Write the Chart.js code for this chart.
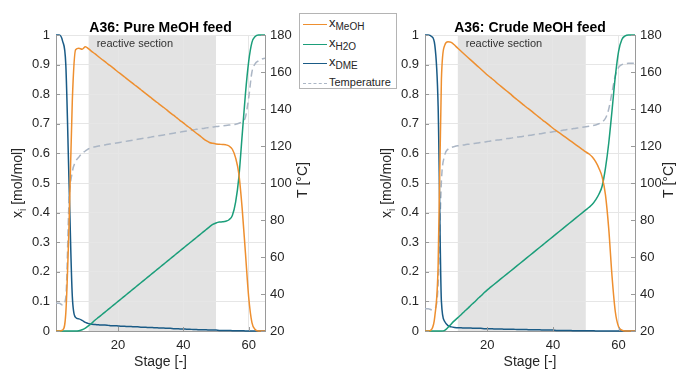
<!DOCTYPE html>
<html>
<head>
<meta charset="utf-8">
<script src="https://cdn.jsdelivr.net/npm/chart.js@4.4.0/dist/chart.umd.min.js"></script>
<style>
  body { margin: 0; background: #fff; }
  #wrap { position: relative; width: 681px; height: 372px; overflow: hidden; font-family: "Liberation Sans", Arial, sans-serif; }
  #c1 { position: absolute; left: 0; top: 0; }
  #c2 { position: absolute; left: 368px; top: 0; }
  #legend { position: absolute; left: 299px; top: 13px; width: 96px; height: 74px; border: 1px solid #b4b4b4; background: #fff; font-size: 11px; color: #262626; }
  .row { position: absolute; left: 3px; height: 14px; line-height: 14px; white-space: nowrap; }
  .sw { display: inline-block; width: 24px; height: 0; border-top: 1.5px solid; vertical-align: middle; margin-right: 2px; }
  .row .x { font-size: 13px; }
  sub { font-size: 10px; vertical-align: -3px; line-height: 0; }
</style>
</head>
<body>
<div id="wrap">
  <canvas id="c1" width="312" height="372"></canvas>
  <canvas id="c2" width="313" height="372"></canvas>
  <div id="legend">
    <div class="row" style="top:2px"><span class="sw" style="border-color:#ee8f2f"></span><span class="x">x</span><sub>MeOH</sub></div>
    <div class="row" style="top:22px"><span class="sw" style="border-color:#1b9e7a"></span><span class="x">x</span><sub>H2O</sub></div>
    <div class="row" style="top:41px"><span class="sw" style="border-color:#1a5b86"></span><span class="x">x</span><sub>DME</sub></div>
    <div class="row" style="top:61px"><span class="sw" style="border-top:1.5px dashed #abb6c5"></span>Temperature</div>
  </div>
</div>
<script>
const stages = [
  1, 2, 3, 4, 5, 6, 7, 8, 9, 10,
  11, 12, 13, 14, 15, 16, 17, 18, 19, 20,
  21, 22, 23, 24, 25, 26, 27, 28, 29, 30,
  31, 32, 33, 34, 35, 36, 37, 38, 39, 40,
  41, 42, 43, 44, 45, 46, 47, 48, 49, 50,
  51, 52, 53, 54, 55, 56, 57, 58, 59, 60,
  61, 62, 63, 64, 65
];

// A36: Pure MeOH feed
const pureMeOH = [
  0, 0, 0.003, 0.06, 0.36, 0.78, 0.950, 0.955, 0.952, 0.960,
  0.953, 0.944, 0.936, 0.927, 0.918, 0.910, 0.901, 0.893, 0.884, 0.875,
  0.867, 0.858, 0.849, 0.841, 0.832, 0.824, 0.815, 0.806, 0.798, 0.789,
  0.780, 0.772, 0.763, 0.755, 0.746, 0.737, 0.729, 0.720, 0.711, 0.703,
  0.694, 0.686, 0.677, 0.668, 0.660, 0.651, 0.643, 0.637, 0.634, 0.632,
  0.631, 0.630, 0.629, 0.625, 0.614, 0.585, 0.530, 0.415, 0.265, 0.115,
  0.028, 0.005, 0, 0, 0
];
const pureH2O = [
  0, 0, 0, 0, 0, 0, 0, 0.001, 0.004, 0.010,
  0.018, 0.027, 0.037, 0.046, 0.055, 0.064, 0.073, 0.082, 0.091, 0.100,
  0.109, 0.118, 0.127, 0.136, 0.145, 0.154, 0.163, 0.172, 0.181, 0.190,
  0.199, 0.208, 0.217, 0.226, 0.235, 0.244, 0.253, 0.262, 0.271, 0.280,
  0.289, 0.298, 0.307, 0.316, 0.325, 0.334, 0.343, 0.352, 0.360, 0.365,
  0.368, 0.369, 0.371, 0.376, 0.390, 0.435, 0.520, 0.660, 0.800, 0.910,
  0.975, 0.995, 1, 1, 1
];
const pureDME = [
  1, 1, 0.98, 0.90, 0.50, 0.116, 0.046, 0.041, 0.036, 0.029,
  0.025, 0.023, 0.022, 0.021, 0.020, 0.020, 0.019, 0.018, 0.018, 0.017,
  0.016, 0.016, 0.015, 0.015, 0.014, 0.014, 0.013, 0.013, 0.012, 0.012,
  0.011, 0.011, 0.010, 0.010, 0.009, 0.009, 0.008, 0.008, 0.007, 0.007,
  0.006, 0.006, 0.005, 0.005, 0.004, 0.004, 0.004, 0.003, 0.003, 0.003,
  0.002, 0.002, 0.002, 0.002, 0.001, 0.001, 0.001, 0.001, 0, 0,
  0, 0, 0, 0, 0
];
const pureTemp = [
  35, 35, 34, 38, 90, 106, 111.5, 114, 116, 117.3,
  118.5, 119.2, 119.6, 120.0, 120.3, 120.6, 120.9, 121.2, 121.5, 121.8,
  122.1, 122.4, 122.7, 123.0, 123.3, 123.6, 123.9, 124.2, 124.5, 124.8,
  125.1, 125.4, 125.7, 126.0, 126.3, 126.6, 126.9, 127.2, 127.5, 127.8,
  128.1, 128.4, 128.7, 129.0, 129.3, 129.5, 129.8, 130.0, 130.3, 130.5,
  130.7, 130.9, 131.1, 131.3, 131.5, 131.8, 132.3, 133.2, 135.5, 146,
  160, 164.5, 166, 167, 167.5
];

// A36: Crude MeOH feed
const crudeMeOH = [
  0, 0, 0.005, 0.05, 0.22, 0.85, 0.965, 0.977, 0.975, 0.966,
  0.955, 0.945, 0.935, 0.925, 0.915, 0.905, 0.895, 0.885, 0.875, 0.865,
  0.856, 0.847, 0.837, 0.828, 0.819, 0.810, 0.801, 0.791, 0.782, 0.773,
  0.764, 0.755, 0.747, 0.738, 0.729, 0.720, 0.711, 0.703, 0.694, 0.685,
  0.677, 0.669, 0.661, 0.653, 0.645, 0.637, 0.629, 0.621, 0.613, 0.605,
  0.598, 0.588, 0.572, 0.550, 0.520, 0.460, 0.345, 0.185, 0.065, 0.014,
  0.003, 0, 0, 0, 0
];
const crudeH2O = [
  0, 0, 0, 0, 0, 0, 0.002, 0.012, 0.024, 0.035,
  0.045, 0.055, 0.066, 0.076, 0.087, 0.097, 0.108, 0.118, 0.129, 0.139,
  0.148, 0.157, 0.166, 0.175, 0.184, 0.193, 0.202, 0.211, 0.220, 0.229,
  0.238, 0.247, 0.256, 0.265, 0.274, 0.283, 0.292, 0.301, 0.310, 0.319,
  0.328, 0.337, 0.346, 0.355, 0.364, 0.373, 0.382, 0.391, 0.400, 0.409,
  0.418, 0.428, 0.443, 0.462, 0.490, 0.550, 0.635, 0.745, 0.860, 0.945,
  0.985, 0.997, 1, 1, 1
];
const crudeDME = [
  1, 1, 0.995, 0.965, 0.76, 0.10, 0.032, 0.018, 0.014, 0.012,
  0.011, 0.011, 0.010, 0.010, 0.010, 0.009, 0.009, 0.009, 0.008, 0.008,
  0.008, 0.007, 0.007, 0.007, 0.006, 0.006, 0.006, 0.006, 0.005, 0.005,
  0.005, 0.005, 0.004, 0.004, 0.004, 0.004, 0.003, 0.003, 0.003, 0.003,
  0.002, 0.002, 0.002, 0.002, 0.002, 0.001, 0.001, 0.001, 0.001, 0.001,
  0.001, 0.001, 0, 0, 0, 0, 0, 0, 0, 0,
  0, 0, 0, 0, 0
];
const crudeTemp = [
  32, 32, 31.5, 32, 45, 101, 115, 118.3, 119.2, 119.7,
  120.1, 120.4, 120.6, 120.9, 121.1, 121.4, 121.6, 121.9, 122.1, 122.4,
  122.7, 122.9, 123.2, 123.4, 123.7, 124.0, 124.2, 124.5, 124.8, 125.0,
  125.3, 125.6, 125.8, 126.1, 126.4, 126.6, 126.9, 127.2, 127.4, 127.7,
  128.0, 128.2, 128.5, 128.8, 129.0, 129.3, 129.6, 129.8, 130.1, 130.4,
  130.7, 131.0, 131.4, 132.0, 133.0, 135.0, 140.0, 149.0, 158.0, 162.5,
  164.0, 164.5, 164.7, 164.7, 164.7
];

const stageTicks = [20, 40, 60];
const fracTicks = [0, 0.1, 0.2, 0.3, 0.4, 0.5, 0.6, 0.7, 0.8, 0.9, 1];
const tempTicks = [20, 40, 60, 80, 100, 120, 140, 160, 180];
const reactive = [11, 50];

const fam = '"Liberation Sans", Arial, sans-serif';
const tickCol = '#262626';
const axisCol = '#9a9a9a';
Chart.defaults.font.family = fam;

const pts = arr => stages.map((s, i) => ({ x: s, y: arr[i] }));

// shaded reactive section, inward ticks, titles
const decor = {
  id: 'decor',
  beforeDraw(chart) {
    const { ctx, chartArea: a, scales: { x } } = chart;
    const x0 = x.getPixelForValue(reactive[0]);
    const x1 = x.getPixelForValue(reactive[1]);
    ctx.save();
    ctx.fillStyle = '#e3e3e3';
    ctx.fillRect(x0, a.top, x1 - x0, a.bottom - a.top);
    ctx.restore();
  },
  afterDraw(chart, args, opts) {
    const { ctx, chartArea: a, scales: { x, y, yT } } = chart;
    ctx.save();
    ctx.strokeStyle = axisCol;
    ctx.lineWidth = 1;
    ctx.beginPath();
    fracTicks.forEach(v => {
      const p = Math.round(y.getPixelForValue(v)) + 0.5;
      ctx.moveTo(a.left, p); ctx.lineTo(a.left + 4, p);
    });
    tempTicks.forEach(v => {
      const p = Math.round(yT.getPixelForValue(v)) + 0.5;
      ctx.moveTo(a.right, p); ctx.lineTo(a.right - 4, p);
    });
    stageTicks.forEach(v => {
      const p = Math.round(x.getPixelForValue(v)) + 0.5;
      ctx.moveTo(p, a.bottom); ctx.lineTo(p, a.bottom - 4);
    });
    ctx.stroke();

    const cx = (a.left + a.right) / 2;
    ctx.fillStyle = '#000';
    ctx.font = 'bold 14px ' + fam;
    ctx.textAlign = 'center';
    ctx.textBaseline = 'alphabetic';
    ctx.fillText(opts.title, cx, 31.5);

    ctx.fillStyle = '#333';
    ctx.font = '11px ' + fam;
    ctx.textAlign = 'left';
    ctx.fillText('reactive section', x.getPixelForValue(reactive[0]) + 8, 47);

    ctx.fillStyle = tickCol;
    ctx.font = '14px ' + fam;
    ctx.textAlign = 'center';
    ctx.fillText('Stage [-]', cx, 366);

    // left title x_i [mol/mol]
    const yc = (a.top + a.bottom) / 2;
    ctx.save();
    ctx.translate(opts.yTitleX, yc);
    ctx.rotate(-Math.PI / 2);
    ctx.textAlign = 'left';
    ctx.font = '14px ' + fam;
    const w1 = ctx.measureText('x').width;
    const w3 = ctx.measureText(' [mol/mol]').width;
    ctx.font = '10px ' + fam;
    const w2 = ctx.measureText('i').width;
    let sx = -(w1 + w2 + w3) / 2;
    ctx.font = '14px ' + fam;
    ctx.fillText('x', sx, 0);
    ctx.font = '10px ' + fam;
    ctx.fillText('i', sx + w1, 4);
    ctx.font = '14px ' + fam;
    ctx.fillText(' [mol/mol]', sx + w1 + w2, 0);
    ctx.restore();

    // right title
    ctx.save();
    ctx.translate(opts.tTitleX, yc - 3);
    ctx.rotate(-Math.PI / 2);
    ctx.font = '14px ' + fam;
    ctx.textAlign = 'center';
    ctx.fillText('T [\u00B0C]', 0, 0);
    ctx.restore();

    ctx.restore();
  }
};

function makeChart(id, title, meoh, h2o, dme, temp, leftW, rightW, yTitleX, tTitleX) {
  const line = (label, arr, color, axis, dash) => ({
    label: label,
    data: pts(arr),
    borderColor: color,
    borderWidth: 1.5,
    borderDash: dash || [],
    pointRadius: 0,
    cubicInterpolationMode: 'monotone',
    yAxisID: axis,
    clip: false
  });
  return new Chart(document.getElementById(id).getContext('2d'), {
    type: 'line',
    data: {
      datasets: [
        line('xMeOH', meoh, '#ee8f2f', 'y'),
        line('xH2O', h2o, '#1b9e7a', 'y'),
        line('xDME', dme, '#1a5b86', 'y'),
        line('Temperature', temp, '#abb6c5', 'yT', [7, 4])
      ]
    },
    options: {
      responsive: false,
      animation: false,
      layout: { padding: { top: 35, left: 0, right: 0, bottom: 0 } },
      plugins: {
        legend: { display: false },
        tooltip: { enabled: false },
        decor: { title: title, yTitleX: yTitleX, tTitleX: tTitleX }
      },
      scales: {
        x: {
          type: 'linear', min: 1, max: 65,
          afterBuildTicks: s => { s.ticks = stageTicks.map(v => ({ value: v })); },
          afterFit: s => { s.height = 41; },
          grid: { color: '#e6e6e6', drawTicks: false },
          border: { color: axisCol },
          ticks: { padding: 7, color: tickCol, font: { size: 13 }, maxRotation: 0 }
        },
        y: {
          position: 'left', min: 0, max: 1,
          afterBuildTicks: s => { s.ticks = fracTicks.map(v => ({ value: v })); },
          afterFit: s => { s.width = leftW; },
          grid: { color: '#e6e6e6', drawTicks: false },
          border: { color: axisCol },
          ticks: { padding: 6, color: tickCol, font: { size: 13 }, callback: v => String(v) }
        },
        yT: {
          position: 'right', min: 20, max: 180,
          afterBuildTicks: s => { s.ticks = tempTicks.map(v => ({ value: v })); },
          afterFit: s => { s.width = rightW; },
          grid: { display: false, drawTicks: false },
          border: { color: axisCol },
          ticks: { padding: 5, color: tickCol, font: { size: 13 } }
        }
      }
    },
    plugins: [decor]
  });
}

makeChart('c1', 'A36: Pure MeOH feed', pureMeOH, pureH2O, pureDME, pureTemp, 56, 47, 22, 307);
makeChart('c2', 'A36: Crude MeOH feed', crudeMeOH, crudeH2O, crudeDME, crudeTemp, 57, 46, 23, 304.5);
</script>
</body>
</html>
